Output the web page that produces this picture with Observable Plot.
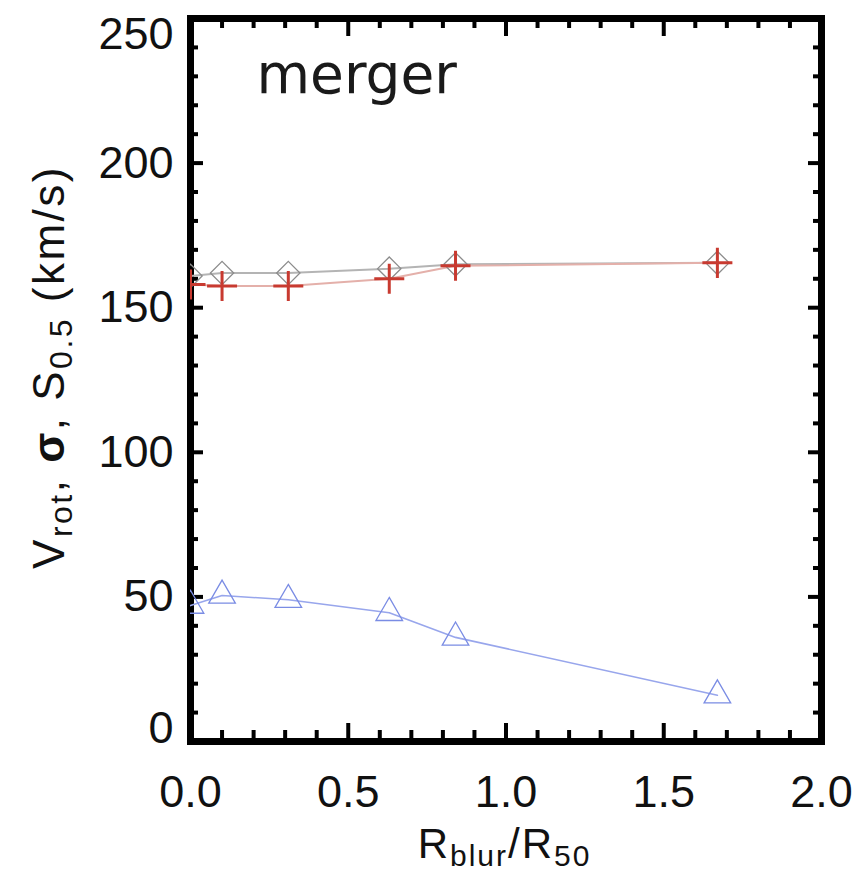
<!DOCTYPE html>
<html><head><meta charset="utf-8">
<script src="https://cdn.jsdelivr.net/npm/d3@7"></script>
<script src="https://cdn.jsdelivr.net/npm/@observablehq/plot@0.6"></script>
<style>html,body{margin:0;padding:0;background:#fff}svg{display:block}</style>
</head><body><div id="chart"></div>
<script>
// ---- data ----
const blurRatio = [0, 0.10, 0.31, 0.63, 0.84, 1.67];
const sigmaVals = [158, 157.5, 157.5, 160, 164.5, 165.5];   // red plus
const s05Vals   = [161, 162, 162, 163.5, 165, 165.5];        // grey diamonds
const vrotVals  = [47, 50.5, 49, 44.5, 36, 16];              // blue triangles
const xMajorTicks = [0, 0.5, 1.0, 1.5, 2.0];
const xTickLabels = ["0.0", "0.5", "1.0", "1.5", "2.0"];
const xMinorTicks = [0.1,0.2,0.3,0.4,0.6,0.7,0.8,0.9,1.1,1.2,1.3,1.4,1.6,1.7,1.8,1.9];
const yMajorTicks = [0, 50, 100, 150, 200, 250];
const yTickLabels = ["0", "50", "100", "150", "200", "250"];
const yMinorTicks = [10,20,30,40,60,70,80,90,110,120,130,140,160,170,180,190,210,220,230,240];
const panelTitle = "merger";

// ---- layout ----
const W = 860, H = 871, mL = 190, mR = 39, mT = 18, mB = 130;
const innerW = W - mL - mR, innerH = H - mT - mB;

const rows = blurRatio.map((x, i) => ({x, sigma: sigmaVals[i], s05: s05Vals[i], vrot: vrotVals[i]}));
const xTicks = xMajorTicks.map((v, i) => ({v, label: xTickLabels[i]}));
const yTicks = yMajorTicks.map((v, i) => ({v, label: yTickLabels[i]}));

const numFont = {fontFamily: "Liberation Sans, Arial, sans-serif", fontSize: 45, fill: "#111"};
const tickStyle = {stroke: "black", strokeWidth: 4};

const chart = Plot.plot({
  width: W, height: H,
  marginLeft: mL, marginRight: mR, marginTop: mT, marginBottom: mB,
  x: {domain: [0, 2], axis: null},
  y: {domain: [0, 250], axis: null},
  style: {background: "white", overflow: "visible"},
  marks: [
    Plot.frame({stroke: "black", strokeWidth: 7}),
    // inward ticks, bottom / top
    Plot.ruleX(xMajorTicks, {x: d => d, insetTop: innerH - 18, ...tickStyle}),
    Plot.ruleX(xMinorTicks, {x: d => d, insetTop: innerH - 11, ...tickStyle}),
    Plot.ruleX(xMajorTicks, {x: d => d, insetBottom: innerH - 18, ...tickStyle}),
    Plot.ruleX(xMinorTicks, {x: d => d, insetBottom: innerH - 10, ...tickStyle}),
    // inward ticks, left / right
    Plot.ruleY(yMajorTicks, {y: d => d, insetRight: innerW - 13, ...tickStyle}),
    Plot.ruleY(yMinorTicks, {y: d => d, insetRight: innerW - 8, ...tickStyle}),
    Plot.ruleY(yMajorTicks, {y: d => d, insetLeft: innerW - 13, ...tickStyle}),
    Plot.ruleY(yMinorTicks, {y: d => d, insetLeft: innerW - 8, ...tickStyle}),
    // tick labels
    Plot.text(yTicks, {filter: d => d.v > 0 && d.v < 250, y: "v", text: "label", frameAnchor: "left", textAnchor: "end", dx: -17, ...numFont}),
    Plot.text(yTicks, {filter: d => d.v === 250, y: "v", text: "label", frameAnchor: "left", textAnchor: "end", dx: -17, dy: 16, ...numFont}),
    Plot.text(yTicks, {filter: d => d.v === 0, y: "v", text: "label", frameAnchor: "left", textAnchor: "end", dx: -17, dy: -13, ...numFont}),
    Plot.text(xTicks, {x: "v", text: "label", frameAnchor: "bottom", dy: 51, lineAnchor: "middle", ...numFont}),
    // title
    Plot.text([panelTitle], {text: d => d, frameAnchor: "top-left", textAnchor: "start", lineAnchor: "bottom", dx: 66, dy: 74,
      fontFamily: "DejaVu Sans, sans-serif", fontSize: 55, letterSpacing: 5, fill: "#1a1a1a"}),
    // series
    Plot.line(rows, {x: "x", y: "s05", stroke: "#b4b4b4", strokeWidth: 2, clip: true}),
    Plot.line(rows, {x: "x", y: "sigma", stroke: "#e4b0aa", strokeWidth: 2, clip: true}),
    Plot.line(rows, {x: "x", y: "vrot", stroke: "#98a6ec", strokeWidth: 1.6, clip: true}),
    Plot.dot(rows, {x: "x", y: "s05", symbol: "diamond2", r: 10.5, stroke: "#8c8c8c", strokeWidth: 1.3, fill: "none", clip: true}),
    Plot.dot(rows, {x: "x", y: "sigma", symbol: "plus", r: 9.7, stroke: "#c83a30", strokeWidth: 3, clip: true}),
    Plot.dot(rows, {x: "x", y: "vrot", symbol: "triangle2", r: 12.7, stroke: "#7a8ce4", strokeWidth: 1.3, fill: "none", clip: true})
  ]
});
document.getElementById("chart").appendChild(chart);

// axis titles with subscripts
const svg = d3.select(chart);
const lblFont = "Liberation Sans, Arial, sans-serif";
const xl = svg.append("text")
  .attr("x", mL + innerW / 2 - 1).attr("y", 858)
  .attr("text-anchor", "middle").attr("font-family", lblFont).attr("font-size", 42)
  .attr("letter-spacing", 2).attr("fill", "#111");
xl.append("tspan").text("R");
xl.append("tspan").attr("font-size", 30).attr("dy", 8).text("blur");
xl.append("tspan").attr("dy", -8).text("/R");
xl.append("tspan").attr("font-size", 30).attr("dy", 8).text("50");

const yl = svg.append("text")
  .attr("transform", "translate(64,367) rotate(-90)")
  .attr("text-anchor", "middle").attr("font-family", lblFont).attr("font-size", 44)
  .attr("letter-spacing", 2.5).attr("fill", "#111");
yl.append("tspan").text("V");
yl.append("tspan").attr("font-size", 32).attr("dy", 8).text("rot");
yl.append("tspan").attr("dy", -8).text(", ");
yl.append("tspan").attr("font-weight", "bold").text("σ");
yl.append("tspan").text(", S");
yl.append("tspan").attr("font-size", 32).attr("dy", 8).text("0.5");
yl.append("tspan").attr("dy", -8).text(" (km/s)");
</script>
</body></html>
